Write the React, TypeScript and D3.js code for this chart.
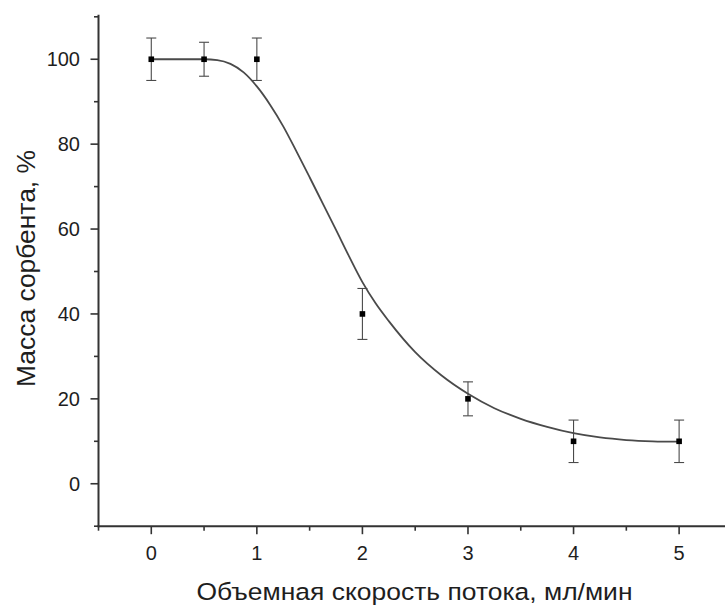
import React from "react";
import * as d3 from "d3";

const flowRates = [0, 0.5, 1, 2, 3, 4, 5];
const massPct = [100, 100, 100, 40, 20, 10, 10];
const errPct = [5, 4, 5, 6, 4, 5, 5];

const fitX = [0, 0.25, 0.5, 0.625, 0.75, 0.875, 1.0, 1.125, 1.25, 1.375, 1.5, 1.625, 1.75, 1.875, 2.0, 2.125, 2.25, 2.5, 2.75, 3.0, 3.25, 3.5, 3.75, 4.0, 4.25, 4.5, 4.75, 5];
const fitY = [100, 100, 100, 99.8, 98.9, 96.9, 93.6, 89.3, 84.2, 78.3, 72.2, 66.0, 59.8, 53.5, 47.5, 42.5, 38.3, 31.0, 25.5, 21.2, 17.8, 15.3, 13.4, 11.9, 10.9, 10.3, 10.0, 9.9];

const xMajor = [0, 1, 2, 3, 4, 5];
const xMinor = [-0.5, 0.5, 1.5, 2.5, 3.5, 4.5];
const yMajor = [0, 20, 40, 60, 80, 100];
const yMinor = [-10, 10, 30, 50, 70, 90, 110];

const xTitle = "Объемная скорость потока, мл/мин";
const yTitle = "Масса сорбента, %";

export default function App() {
  const W = 725, H = 605;
  const x = d3.scaleLinear().domain([-0.5, 5.5]).range([98.5, 731.9]);
  const y = d3.scaleLinear().domain([-10, 110]).range([526.2, 16.8]);
  const axisColor = "#333";
  const textColor = "#1e1e1e";
  const font = "'Liberation Sans', Arial, sans-serif";

  const line = d3
    .line<number>()
    .x((_, i) => x(fitX[i]))
    .y((d) => y(d))
    .curve(d3.curveMonotoneX);

  const x0 = x(-0.5);
  const yb = y(-10);

  return (
    <svg width={W} height={H} style={{ position: "absolute", left: 0, top: 0, background: "#fff" }}>
      <rect x={0} y={0} width={W} height={H} fill="#fff" />
      <path d={line(fitY) || ""} fill="none" stroke="#4a4a4a" strokeWidth={1.8} />
      {flowRates.map((fx, i) => {
        const cx = x(fx);
        const top = y(massPct[i] + errPct[i]);
        const bot = y(massPct[i] - errPct[i]);
        return (
          <g key={"e" + i} stroke="#4a4a4a" strokeWidth={1.1}>
            <line x1={cx} x2={cx} y1={top} y2={bot} />
            <line x1={cx - 5} x2={cx + 5} y1={top} y2={top} />
            <line x1={cx - 5} x2={cx + 5} y1={bot} y2={bot} />
          </g>
        );
      })}
      {flowRates.map((fx, i) => (
        <rect key={"m" + i} x={x(fx) - 2.8} y={y(massPct[i]) - 2.8} width={5.6} height={5.6} fill="#000" />
      ))}
      <line x1={x0} x2={x0} y1={y(110) - 2} y2={yb + 1} stroke={axisColor} strokeWidth={2} />
      <line x1={x0 - 1} x2={W} y1={yb} y2={yb} stroke={axisColor} strokeWidth={2} />
      {yMajor.map((v) => (
        <g key={"ym" + v}>
          <line x1={x0 - 8} x2={x0} y1={y(v)} y2={y(v)} stroke={axisColor} strokeWidth={1.6} />
          <text x={80} y={y(v)} dy="0.36em" textAnchor="end" fontFamily={font} fontSize={20} fill={textColor}>
            {v}
          </text>
        </g>
      ))}
      {yMinor.map((v) => (
        <line key={"yn" + v} x1={x0 - 4.5} x2={x0} y1={y(v)} y2={y(v)} stroke={axisColor} strokeWidth={1.6} />
      ))}
      {xMajor.map((v) => (
        <g key={"xm" + v}>
          <line x1={x(v)} x2={x(v)} y1={yb} y2={yb + 8} stroke={axisColor} strokeWidth={1.6} />
          <text x={x(v)} y={560} textAnchor="middle" fontFamily={font} fontSize={20} fill={textColor}>
            {v}
          </text>
        </g>
      ))}
      {xMinor.map((v) => (
        <line key={"xn" + v} x1={x(v)} x2={x(v)} y1={yb} y2={yb + 4.5} stroke={axisColor} strokeWidth={1.6} />
      ))}
      <text x={196.5} y={600} fontFamily={font} fontSize={24.5} fill={textColor} textLength={436} lengthAdjust="spacingAndGlyphs">
        {xTitle}
      </text>
      <text
        transform={`translate(35, 387) rotate(-90)`}
        fontFamily={font}
        fontSize={25}
        fill={textColor}
        textLength={237}
        lengthAdjust="spacingAndGlyphs"
      >
        {yTitle}
      </text>
    </svg>
  );
}
